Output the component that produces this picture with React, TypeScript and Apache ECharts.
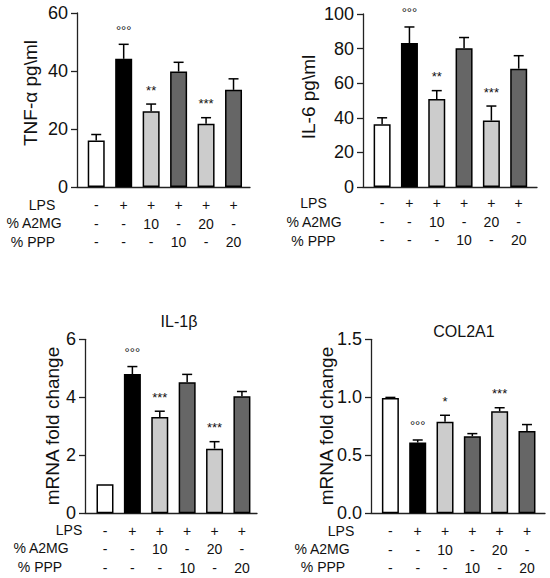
import React, { useEffect, useRef } from "react";
import * as echarts from "echarts";

// ---- data ----
const conditionsLPS = ["-", "+", "+", "+", "+", "+"];
const conditionsA2MG = ["-", "-", "10", "-", "20", "-"];
const conditionsPPP = ["-", "-", "-", "10", "-", "20"];
const rowTitles = ["LPS", "% A2MG", "% PPP"];

const tnfMean = [16, 44.2, 26.1, 39.8, 21.8, 33.5];
const tnfErr = [2.1, 5, 2.5, 3.2, 2.1, 3.8];
const tnfSig = ["", "°°°", "**", "", "***", ""];

const il6Mean = [36.2, 83.2, 50.9, 80.2, 38.4, 68.4];
const il6Err = [3.8, 9.3, 4.8, 6.2, 8.4, 7.5];
const il6Sig = ["", "°°°", "**", "", "***", ""];

const il1bMean = [1.0, 4.8, 3.32, 4.52, 2.23, 4.04];
const il1bErr = [0, 0.26, 0.2, 0.27, 0.24, 0.16];
const il1bSig = ["", "°°°", "***", "", "***", ""];

const col2a1Mean = [0.995, 0.61, 0.79, 0.665, 0.88, 0.71];
const col2a1Err = [0.004, 0.022, 0.055, 0.022, 0.03, 0.055];
const col2a1Sig = ["", "°°°", "*", "", "***", ""];

const yNames = ["TNF-α pg\\ml", "IL-6 pg\\ml", "mRNA fold change", "mRNA fold change"];
const titles = ["", "", "IL-1β", "COL2A1"];
const yMax = [60, 100, 6, 1.5];
const yInterval = [20, 20, 2, 0.5];
const yDecimals = [0, 0, 0, 1];

const barColors = ["#ffffff", "#000000", "#cccccc", "#666666", "#cccccc", "#666666"];

// ---- layout ----
const FONT = "'Liberation Sans', Arial, Helvetica, sans-serif";
const layouts = [
  { left: 77, top: 13, width: 173, height: 174, xmin: -0.7, xmax: 5.6, name: [30, 93], labelMargin: 9,
    rows: [[42, 205], [34, 223], [33, 242]], title: [0, 0] },
  { left: 363, top: 14, width: 174, height: 173, xmin: -0.7, xmax: 5.67, name: [308, 97], labelMargin: 7,
    rows: [[313.5, 203], [314, 222], [313.5, 241]], title: [0, 0] },
  { left: 85, top: 339.3, width: 172, height: 174, xmin: -0.73, xmax: 5.55, name: [52, 426], labelMargin: 8,
    rows: [[69, 530], [41, 548.3], [40, 566.7]], title: [179, 321] },
  { left: 371, top: 339.3, width: 174, height: 174, xmin: -0.71, xmax: 5.66, name: [326, 426], labelMargin: 8.5,
    rows: [[341, 531], [322, 549], [323, 566.7]], title: [464, 331] },
];

const panels = [
  { mean: tnfMean, err: tnfErr, sig: tnfSig },
  { mean: il6Mean, err: il6Err, sig: il6Sig },
  { mean: il1bMean, err: il1bErr, sig: il1bSig },
  { mean: col2a1Mean, err: col2a1Err, sig: col2a1Sig },
];

function buildOption() {
  const grid: any[] = [];
  const xAxis: any[] = [];
  const yAxis: any[] = [];
  const series: any[] = [];
  const graphic: any[] = [];

  layouts.forEach((L, i) => {
    grid.push({ left: L.left, top: L.top, width: L.width, height: L.height, containLabel: false });
    xAxis.push({
      type: "value",
      gridIndex: i,
      min: L.xmin,
      max: L.xmax,
      splitLine: { show: false },
      axisLine: { show: true, onZero: false, lineStyle: { color: "#222", width: 1.3 } },
      axisTick: { show: false },
      axisLabel: {
        show: true,
        customValues: [0, 1, 2, 3, 4, 5],
        margin: L.labelMargin,
        fontFamily: FONT,
        fontSize: 14,
        lineHeight: 18.5,
        color: "#111",
        verticalAlign: "top",
        formatter: (v: number) => {
          const k = Math.round(v);
          return conditionsLPS[k] + "\n" + conditionsA2MG[k] + "\n" + conditionsPPP[k];
        },
      },
    });
    yAxis.push({
      type: "value",
      gridIndex: i,
      min: 0,
      max: yMax[i],
      interval: yInterval[i],
      splitLine: { show: false },
      axisLine: { show: true, onZero: false, lineStyle: { color: "#222", width: 1.3 } },
      axisTick: { show: true, length: 6, lineStyle: { color: "#222", width: 1.3 } },
      axisLabel: {
        margin: 9,
        fontFamily: FONT,
        fontSize: 18,
        color: "#111",
        formatter: (v: number) => v.toFixed(yDecimals[i]),
      },
    });

    const P = panels[i];
    series.push({
      type: "bar",
      xAxisIndex: i,
      yAxisIndex: i,
      barWidth: 17,
      data: P.mean.map((v, k) => ({
        value: [k, v],
        itemStyle: { color: barColors[k], borderColor: "#000", borderWidth: 1.5 },
      })),
    });
    series.push({
      type: "custom",
      xAxisIndex: i,
      yAxisIndex: i,
      clip: false,
      z: 5,
      data: P.mean.map((v, k) => [k, v, P.err[k]]),
      renderItem: (params: any, api: any) => {
        const x = api.value(0);
        const m = api.value(1);
        const e = api.value(2);
        const base = api.coord([x, m]);
        const top = api.coord([x, m + e]);
        const children: any[] = [];
        if (e > 0) {
          children.push({
            type: "line",
            shape: { x1: base[0], y1: base[1], x2: top[0], y2: top[1] },
            style: { stroke: "#000", lineWidth: 1.5 },
          });
          children.push({
            type: "line",
            shape: { x1: top[0] - 5, y1: top[1], x2: top[0] + 5, y2: top[1] },
            style: { stroke: "#000", lineWidth: 1.5 },
          });
        }
        const s = P.sig[params.dataIndex];
        if (s) {
          children.push({
            type: "text",
            x: top[0],
            y: top[1] - 14,
            style: {
              text: s,
              fill: "#111",
              fontFamily: FONT,
              fontSize: 13,
              align: "center",
              verticalAlign: "middle",
            },
          });
        }
        return { type: "group", children };
      },
    });

    graphic.push({
      type: "text",
      x: L.name[0],
      y: L.name[1],
      rotation: Math.PI / 2,
      style: {
        text: yNames[i],
        fill: "#111",
        fontFamily: FONT,
        fontSize: 19,
        align: "center",
        verticalAlign: "middle",
      },
    });

    L.rows.forEach((r, ri) => {
      graphic.push({
        type: "text",
        x: r[0],
        y: r[1],
        style: {
          text: rowTitles[ri],
          fill: "#111",
          fontFamily: FONT,
          fontSize: 14,
          align: "center",
          verticalAlign: "middle",
        },
      });
    });
    if (titles[i]) {
      graphic.push({
        type: "text",
        x: L.title[0],
        y: L.title[1],
        style: {
          text: titles[i],
          fill: "#111",
          fontFamily: FONT,
          fontSize: 16,
          align: "center",
          verticalAlign: "middle",
        },
      });
    }
  });

  return {
    animation: false,
    backgroundColor: "#ffffff",
    grid,
    xAxis,
    yAxis,
    series,
    graphic,
  };
}

export default function App() {
  const ref = useRef<HTMLDivElement>(null);
  useEffect(() => {
    if (!ref.current) return;
    const chart = echarts.init(ref.current, null, { renderer: "svg" });
    chart.setOption(buildOption() as any);
    return () => chart.dispose();
  }, []);
  return (
    <div
      ref={ref}
      style={{ position: "fixed", left: 0, top: 0, width: 550, height: 578, background: "#fff" }}
    />
  );
}
